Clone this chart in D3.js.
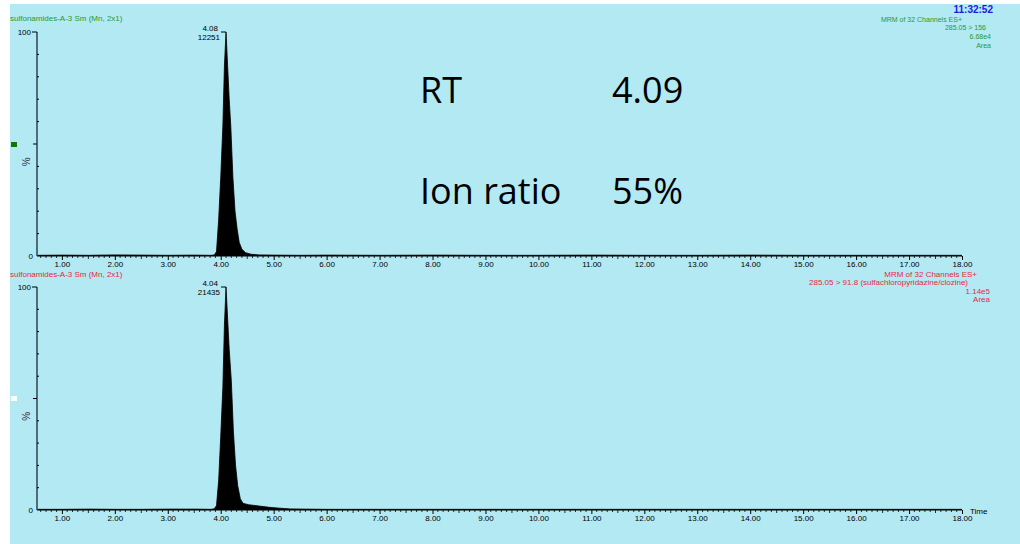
<!DOCTYPE html>
<html>
<head>
<meta charset="utf-8">
<script src="https://cdn.jsdelivr.net/npm/d3@7"></script>
<style>
  html, body { margin: 0; padding: 0; background: #fff; }
  svg { display: block; }
  .small { font-family: "Liberation Sans", Arial, sans-serif; font-size: 8px; }
  .big { font-family: "Open Sans", Lato, sans-serif; font-size: 36px; fill: #000; }
</style>
</head>
<body>
<div id="chart"></div>
<script>
// x axis tick labels
const timeTicks = [1, 2, 3, 4, 5, 6, 7, 8, 9, 10, 11, 12, 13, 14, 15, 16, 17, 18];

// trace 1: 285.05 > 156
const topTimes = [0.53, 1.0, 1.5, 2.0, 2.5, 3.0, 3.5, 3.82, 3.88, 3.92, 3.96, 4.00, 4.04, 4.07, 4.10,
  4.13, 4.16, 4.19, 4.23, 4.27, 4.31, 4.35, 4.40, 4.47, 4.57, 4.72, 5.0, 5.5, 6.0, 7.0, 8.0, 9.0,
  10.0, 11.0, 12.0, 13.0, 14.0, 15.0, 16.0, 17.0, 18.0];
const topValues = [0.3, 0.4, 0.3, 0.5, 0.4, 0.3, 0.4, 0.3, 0.5, 2, 16, 35, 58, 85, 100,
  85, 70, 58, 35, 20, 12, 6, 3, 1.5, 0.8, 0.5, 0.4, 0.3, 0.4, 0.3, 0.4, 0.3,
  0.3, 0.4, 0.3, 0.3, 0.4, 0.3, 0.3, 0.3, 0.3];

// trace 2: 285.05 > 91.8
const botTimes = [0.53, 1.0, 1.5, 2.0, 2.5, 3.0, 3.5, 3.82, 3.88, 3.92, 3.96, 4.00, 4.04, 4.07, 4.10,
  4.13, 4.16, 4.20, 4.24, 4.28, 4.32, 4.37, 4.42, 4.52, 4.72, 4.92, 5.12, 5.32, 5.6, 6.0, 7.0, 8.0,
  9.0, 10.0, 11.0, 12.0, 13.0, 14.0, 15.0, 16.0, 17.0, 18.0];
const botValues = [0.3, 0.3, 0.4, 0.3, 0.3, 0.4, 0.4, 0.3, 0.6, 2, 13, 33, 55, 83, 100,
  86, 72, 58, 35, 20, 11, 5, 3, 2.4, 1.8, 1.2, 0.8, 0.5, 0.4, 0.3, 0.3, 0.3,
  0.3, 0.3, 0.3, 0.3, 0.3, 0.3, 0.3, 0.3, 0.3, 0.3];

const W = 1020, H = 544;
const svg = d3.select('#chart').append('svg').attr('width', W).attr('height', H);

svg.append('rect').attr('x', 10).attr('y', 4).attr('width', W - 10).attr('height', H - 4)
  .attr('fill', '#b3e9f3');

const x = d3.scaleLinear().domain([0.53, 18]).range([37, 962]);

function panel(opts) {
  const y = d3.scaleLinear().domain([0, 100]).range([opts.y0, opts.y1]);
  const g = svg.append('g');
  const data = opts.times.map((t, i) => ({ t: t, v: opts.values[i] }));

  // filled trace
  const area = d3.area().x(d => x(d.t)).y0(y(0)).y1(d => y(d.v));
  g.append('path').datum(data).attr('d', area).attr('fill', '#000');
  g.append('path').datum(data)
    .attr('d', d3.line().x(d => x(d.t)).y(d => y(d.v)))
    .attr('fill', 'none').attr('stroke', '#000').attr('stroke-width', 0.8);

  // y axis
  g.append('line').attr('x1', 37).attr('x2', 37).attr('y1', y(100)).attr('y2', y(0))
    .attr('stroke', '#4f6d78').attr('stroke-width', 2);
  g.append('line').attr('x1', 32).attr('x2', 37).attr('y1', y(100)).attr('y2', y(100))
    .attr('stroke', '#000').attr('stroke-width', 1);
  g.append('line').attr('x1', 33).attr('x2', 37).attr('y1', y(50)).attr('y2', y(50))
    .attr('stroke', '#000').attr('stroke-width', 1);
  g.selectAll('.yminor').data([10, 20, 30, 40, 60, 70, 80, 90]).enter().append('line')
    .attr('x1', 37).attr('x2', 39).attr('y1', d => y(d)).attr('y2', d => y(d))
    .attr('stroke', '#000').attr('stroke-width', 1);
  g.append('text').attr('class', 'small').attr('x', 31).attr('y', y(100) + 3)
    .attr('text-anchor', 'end').attr('fill', '#000').text('100');
  g.append('text').attr('class', 'small').attr('x', 33).attr('y', y(0) + 3)
    .attr('text-anchor', 'end').attr('fill', '#000').text('0');
  g.append('text').attr('class', 'small').attr('x', 30).attr('y', y(42))
    .attr('text-anchor', 'middle').attr('fill', '#333').style('font-size', '10px')
    .attr('transform', 'rotate(-90,30,' + y(42) + ')').text('%');

  // x axis
  const axis = d3.axisBottom(x).tickValues(timeTicks).tickSize(4).tickFormat(d3.format('.2f'));
  const ax = g.append('g').attr('transform', 'translate(0,' + y(0) + ')').call(axis);
  ax.select('.domain').attr('d', 'M37,0H962').attr('stroke', '#000').attr('stroke-width', 1.2);
  ax.selectAll('text').attr('class', 'small').attr('fill', '#000').attr('y', 5).attr('dy', '0.8em');
  const minor = d3.range(6, 181).map(d => d / 10).filter(d => Math.abs(d - Math.round(d)) > 0.01);
  g.selectAll('.xminor').data(minor).enter().append('line')
    .attr('x1', d => x(d)).attr('x2', d => x(d))
    .attr('y1', y(0)).attr('y2', d => y(0) + (Math.abs(d % 1 - 0.5) < 0.01 ? 3 : 2))
    .attr('stroke', '#000').attr('stroke-width', 0.8);

  // peak annotation
  const apex = x(4.10);
  g.append('line').attr('x1', apex - 5).attr('x2', apex).attr('y1', y(100)).attr('y2', y(100))
    .attr('stroke', '#000').attr('stroke-width', 1);
  g.append('text').attr('class', 'small').attr('x', 218).attr('y', y(100) - 1)
    .attr('text-anchor', 'end').attr('fill', '#000').text(opts.rt);
  g.append('text').attr('class', 'small').attr('x', 220).attr('y', y(100) + 8)
    .attr('text-anchor', 'end').attr('fill', '#000').text(opts.height);

  // side marker
  g.append('rect').attr('x', 11).attr('y', opts.markY).attr('width', 6).attr('height', 5)
    .attr('fill', opts.markColor);

  // header texts
  g.append('text').attr('class', 'small').attr('x', 10).attr('y', opts.headY)
    .attr('fill', opts.color).text('sulfonamides-A-3 Sm (Mn, 2x1)');
  opts.right.forEach(r => {
    g.append('text').attr('class', 'small').attr('x', r[1]).attr('y', r[2])
      .attr('text-anchor', 'end').attr('fill', opts.color).style('font-size', opts.rightSize)
      .text(r[0]);
  });
  return g;
}

panel({
  times: topTimes, values: topValues, y0: 256, y1: 32, rightSize: '7px',
  rt: '4.08', height: '12251', color: '#2a9a2a', markColor: '#0b7a0b', markY: 142, headY: 21,
  right: [['MRM of 32 Channels ES+', 962, 22], ['285.05 > 156', 986, 30],
          ['6.68e4', 991, 39], ['Area', 991, 48]]
});

const bot = panel({
  times: botTimes, values: botValues, y0: 510, y1: 287, rightSize: '8px',
  rt: '4.04', height: '21435', color: '#e8283a', markColor: '#ffffff', markY: 396, headY: 277,
  right: [['MRM of 32 Channels ES+', 977, 277], ['285.05 > 91.8 (sulfachloropyridazine/clozine)', 968, 285],
          ['1.14e5', 990, 294], ['Area', 990, 302]]
});
bot.append('text').attr('class', 'small').attr('x', 970).attr('y', 514)
  .attr('fill', '#000').text('Time');

svg.append('text').attr('x', 993).attr('y', 13).attr('text-anchor', 'end')
  .attr('font-family', 'Liberation Sans, Arial, sans-serif').attr('font-size', 10)
  .attr('font-weight', 'bold').attr('fill', '#1a1ae6').text('11:32:52');

// annotations
svg.append('text').attr('class', 'big').attr('x', 420).attr('y', 103).text('RT');
svg.append('text').attr('class', 'big').attr('x', 612).attr('y', 103).text('4.09');
svg.append('text').attr('class', 'big').attr('x', 420).attr('y', 204).text('Ion ratio');
svg.append('text').attr('class', 'big').attr('x', 612).attr('y', 204).text('55%');
</script>
</body>
</html>
